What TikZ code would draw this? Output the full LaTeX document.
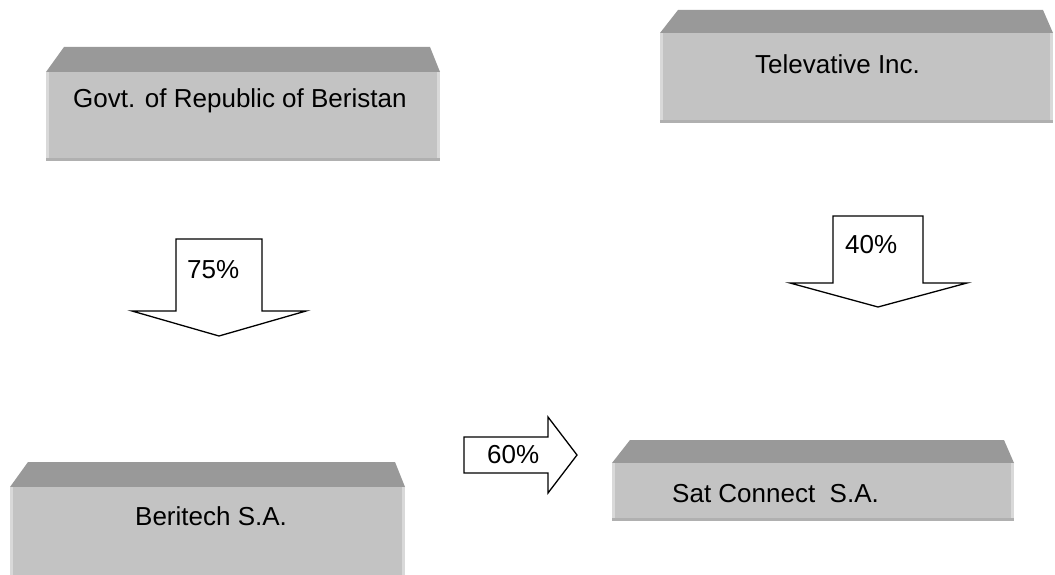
\documentclass[tikz,border=0pt]{standalone}
\usepackage{fontspec}
\setmainfont{Liberation Sans}
\definecolor{topc}{HTML}{999999}
\definecolor{frontc}{HTML}{C3C3C3}
\definecolor{lightc}{HTML}{D9D9D9}
\definecolor{darkc}{HTML}{B0B0B0}
\newcommand{\bevelbox}[5]{%
  \fill[topc] (#1,#4) -- (#1+18,#3) -- (#2-10,#3) -- (#2,#4) -- cycle;
  \fill[frontc] (#1,#4) rectangle (#2,#5);
  \fill[lightc] (#1,#4) rectangle (#1+3,#5);
  \fill[lightc] (#2-3,#4) rectangle (#2,#5);
  \fill[darkc] (#1,#5-3) rectangle (#2,#5);
}
\begin{document}
\begin{tikzpicture}[x=1pt,y=-1pt,
  lbl/.style={anchor=base west,inner sep=0pt,font=\fontsize{26}{30}\selectfont},
  blockarrow/.style={draw=black,fill=white,line width=1.3pt,line join=miter}]
\clip (0,0) rectangle (1055,575);
\fill[white] (0,0) rectangle (1055,575);
% boxes
\bevelbox{46}{440}{47}{72}{161}
\bevelbox{660}{1053}{10}{33}{123}
\bevelbox{10}{405}{462}{487}{580}
\bevelbox{612}{1014}{440}{463}{521}
\node[lbl] (govt) at (73,108) {Govt. of Republic of Beristan};
\node[lbl] (tele) at (755,74) {Televative Inc.};
\node[lbl] (beri) at (135,525) {Beritech S.A.};
\node[lbl] (sat) at (672,502) {Sat Connect\ \ S.A.};
% block arrows
\draw[blockarrow] (176,239) -- (262,239) -- (262,311) -- (306,311) -- (219,336)
  -- (132,311) -- (176,311) -- cycle;
\draw[blockarrow] (833,216) -- (923,216) -- (923,283) -- (967,283) -- (878,307)
  -- (790,283) -- (833,283) -- cycle;
\draw[blockarrow] (464,437) -- (548,437) -- (548,417) -- (577,455) -- (548,493)
  -- (548,473) -- (464,473) -- cycle;
\node[lbl] (p75) at (187,278) {75\%};
\node[lbl] (p40) at (845,253) {40\%};
\node[lbl] (p60) at (487,463) {60\%};
\end{tikzpicture}
\end{document}
